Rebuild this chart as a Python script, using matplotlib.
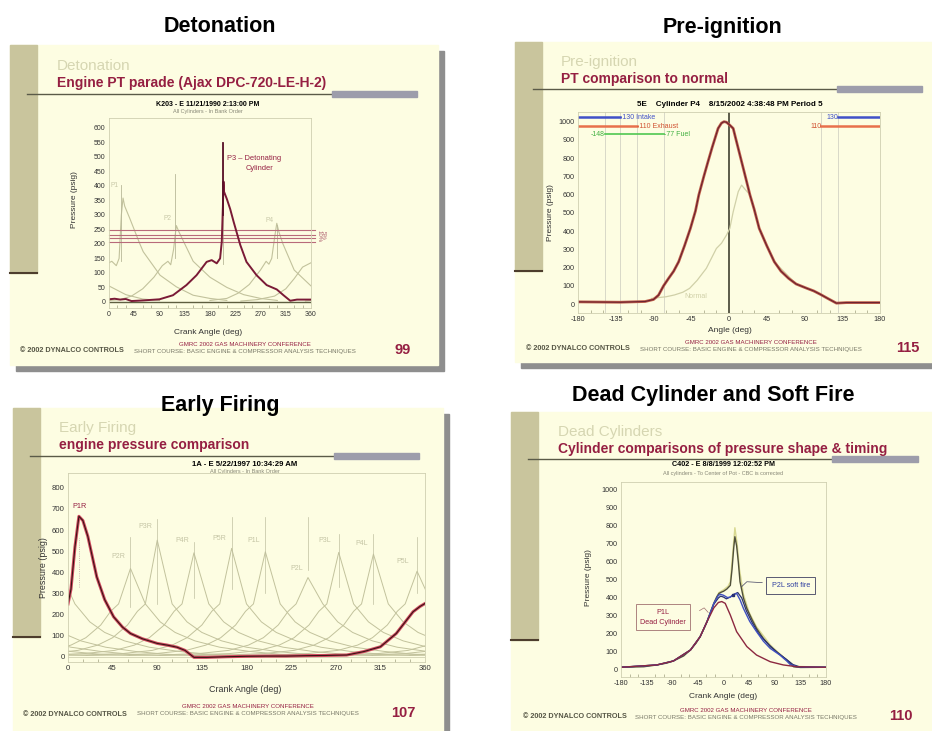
import matplotlib
matplotlib.use('Agg')
import matplotlib.pyplot as plt
from matplotlib.patches import Rectangle
import numpy as np

plt.rcParams['font.family'] = ['Liberation Sans', 'DejaVu Sans']
plt.rcParams['axes.unicode_minus'] = False

W, H = 932, 731

# ---------------- data (crank angle in deg, pressure in psig) ----------------
# Detonation: Ajax DPC-720-LE-H-2, P3 is the detonating cylinder
det_p3_angle = [0, 10, 20, 30, 40, 60, 90, 114, 138, 156, 174, 183, 192, 198, 201, 203, 204,
                205, 207, 210, 216, 222, 234, 245, 263, 281, 299, 311, 323, 335, 360]
det_p3_psi = [9, 11, 8, 10, 3, 5, 9, 23, 58, 92, 138, 144, 133, 150, 208, 330, 415,
              380, 370, 355, 320, 277, 196, 138, 92, 58, 43, 23, 4, 8, 8]
det_p1_angle = [-125, -95, -65, -45, -30, -15, 5, 13, 18, 22, 25, 28, 37, 55, 61, 91, 120, 150, 180, 210]
det_p1_psi = [3, 8, 20, 45, 80, 120, 140, 125, 150, 300, 358, 330, 288, 200, 173, 92, 52, 23, 12, 5]
det_p2_angle = [-10, 20, 40, 60, 80, 95, 105, 110, 115, 120, 125, 135, 150, 180, 210, 240, 270, 300]
det_p2_psi = [3, 8, 20, 45, 85, 125, 140, 128, 180, 263, 240, 200, 140, 85, 50, 25, 12, 5]
det_p4_angle = [180, 210, 230, 250, 270, 280, 285, 290, 295, 299, 303, 310, 330, 360, 390, 420, 450]
det_p4_psi = [5, 12, 30, 60, 110, 140, 130, 150, 220, 271, 240, 200, 110, 55, 25, 10, 5]
det_marker_angle = [22, 118, 204, 299]
det_marker_low = [140, 150, 130, 150]
det_marker_high = [404, 440, 548, 265]
det_limit_psi = [248, 232, 220, 208]

# Pre-ignition: cylinder P4 against a normal cycle
pi_angle = [-180, -130, -100, -90, -84, -78, -72, -66, -60, -53, -46, -40, -36, -30, -25, -20, -13, -9,
            -6, -3, 0, 5, 8, 15, 20, 25, 30, 36, 45, 54, 62, 71, 80, 93, 101, 109, 118, 128, 140, 180]
pi_psi = [12, 10, 14, 25, 49, 100, 141, 180, 232, 320, 415, 510, 598, 700, 781, 860, 963, 992,
          1000, 997, 985, 963, 908, 781, 690, 598, 520, 415, 320, 232, 180, 141, 110, 86, 72, 53, 30, 5, 8, 8]
pi_normal_angle = [-92, -85, -75, -65, -55, -47, -38, -27, -15, -9, -3, 1, 5, 11, 15, 19, 25, 36, 54, 80, 109, 128, 180]
pi_normal_psi = [31, 35, 40, 50, 65, 86, 130, 196, 305, 333, 378, 415, 506, 616, 652, 630, 598, 415, 232, 110, 53, 5, 8]
pi_intake = [-130, 130]
pi_exhaust = [-110, 110]
pi_fuel = [-148, -77]
pi_event_lines = [-148, -130, -110, -77, 110, 130]

# Early firing: P1R in red, remaining cylinders grey
ef_p1r_angle = [0, 3, 7, 11, 15, 20, 29, 37, 46, 55, 63, 75, 90, 100, 110, 118, 127, 140, 160, 180,
                200, 220, 240, 260, 281, 298, 315, 331, 348, 355, 360]
ef_p1r_psi = [250, 320, 520, 665, 645, 570, 378, 270, 189, 140, 110, 85, 63, 55, 45, 30, -3, -3, 0, 2,
              3, 3, 5, 6, 8, 24, 47, 110, 213, 238, 252]
ef_labels = ['P2R', 'P3R', 'P4R', 'P5R', 'P1L', 'P2L', 'P3L', 'P4L', 'P5L']
ef_peak_angle = [63, 90, 127, 165, 199, 242, 273, 308, 352]
ef_peak_psi = [418, 552, 492, 513, 497, 375, 494, 486, 405]
ef_prof_rel = [-180, -150, -110, -80, -60, -45, -30, -20, -12, 0, 15, 30, 45, 65, 90, 120, 150, 180]
ef_prof_psi = [6, 8, 15, 30, 55, 90, 150, 215, 250, None, 250, 165, 115, 75, 45, 25, 12, 6]
ef_marker_low = [236, 252, 280, 323, 300, 410, 330, 250, 300]
ef_marker_high = [568, 654, 544, 662, 662, 662, 583, 583, 568]
ef_label_angle = [51, 78, 115, 153, 187, 231, 259, 296, 338]
ef_label_psi = [473, 615, 552, 560, 552, 418, 552, 536, 450]

# Dead cylinder and soft fire
dc_norm_angle = [-180, -140, -117, -100, -88, -70, -58, -48, -41, -35, -29, -23, -17, -12, -8, -4, 0, 6,
                 12, 15, 18, 20, 23, 26, 29, 35, 41, 50, 58, 70, 82, 99, 111, 123, 135, 180]
dc_norm_psi = [15, 18, 28, 38, 50, 78, 111, 150, 185, 225, 268, 320, 370, 405, 425, 432, 437, 450,
               470, 560, 680, 740, 690, 600, 490, 400, 342, 280, 231, 175, 130, 87, 56, 18, 14, 15]
dc_norm2_angle = [-180, -117, -88, -58, -41, -29, -17, -8, 0, 8, 12, 16, 20, 24, 28, 35, 45, 58, 82, 105, 125, 180]
dc_norm2_psi = [15, 28, 50, 111, 185, 268, 372, 430, 445, 465, 490, 640, 790, 700, 560, 420, 320, 240, 140, 70, 20, 15]
dc_soft_angle = [-180, -117, -88, -58, -41, -29, -17, -9, -5, 0, 7, 12, 17, 23, 29, 35, 46, 58, 70, 82,
                 99, 111, 117, 129, 180]
dc_soft_psi = [15, 28, 50, 111, 185, 268, 370, 415, 420, 415, 402, 405, 417, 425, 390, 342, 270, 213, 160, 120,
               83, 50, 31, 18, 15]
dc_soft2_angle = [-180, -117, -88, -58, -41, -29, -17, -9, -5, 0, 5, 12, 18, 25, 32, 40, 50, 62, 80, 95, 110, 122, 135, 180]
dc_soft2_psi = [15, 28, 50, 111, 185, 268, 365, 400, 410, 405, 395, 405, 420, 430, 400, 330, 265, 200, 140, 95, 60, 30, 16, 15]
dc_dead_angle = [-180, -117, -88, -58, -41, -29, -17, -9, -3, 3, 12, 23, 41, 58, 82, 105, 129, 180]
dc_dead_psi = [15, 28, 50, 111, 185, 268, 345, 375, 380, 370, 305, 213, 130, 83, 46, 28, 18, 15]

# ---------------- styling ----------------
SLIDE = '#fdfde2'
OLIVE = '#c9c59d'
MAROON = '#951f42'
LIGHT = '#d6d6b2'
GRAYBAR = '#9d9dab'
GREY_CURVE = '#c2c29c'

fig = plt.figure(figsize=(W / 100, H / 100), dpi=100)
bg = fig.add_axes([0, 0, 1, 1])
bg.set_xlim(0, W)
bg.set_ylim(H, 0)
bg.axis('off')


def slide(x0, y0, x1, y1, bar_bottom, rule_y, rule_x0, rule_x1, bar_w):
    bg.add_patch(Rectangle((x0 + 6, y0 + 6), x1 - x0, y1 - y0, color='#8e8e8e', zorder=0))
    bg.add_patch(Rectangle((x0, y0), x1 - x0, y1 - y0, color=SLIDE, zorder=1))
    bg.add_patch(Rectangle((x0, y0), 27, bar_bottom - y0, color=OLIVE, zorder=2))
    bg.plot([x0, x0 + 27], [bar_bottom, bar_bottom], color='#4d3d2d', lw=1.5, zorder=3)
    bg.plot([rule_x0, rule_x1], [rule_y, rule_y], color='#5a5a48', lw=1.0, zorder=3)
    bg.add_patch(Rectangle((rule_x1 - 1, rule_y - 3.5), bar_w, 6, color=GRAYBAR, zorder=3))


def slide_text(heading, hx, hy, light, maroon, tx, ty, page, fx, fy, cx, px):
    bg.text(hx, hy, heading, fontsize=15.5, fontweight='bold', ha='center', va='center', zorder=5)
    bg.text(tx, ty, light, fontsize=11, color=LIGHT, ha='left', va='center', zorder=5)
    bg.text(tx, ty + 17, maroon, fontsize=10, fontweight='bold', color=MAROON, ha='left', va='center', zorder=5)
    bg.text(fx, fy, '© 2002 DYNALCO CONTROLS', fontsize=5.2, fontweight='bold', color='#555544',
            ha='left', va='center', zorder=5)
    bg.text(cx, fy - 7, 'GMRC 2002 GAS MACHINERY CONFERENCE', fontsize=4.4, color=MAROON,
            ha='center', va='center', zorder=5)
    bg.text(cx, fy, 'SHORT COURSE: BASIC ENGINE & COMPRESSOR ANALYSIS TECHNIQUES', fontsize=4.4,
            color='#777766', ha='center', va='center', zorder=5)
    bg.text(px, fy - 1, page, fontsize=10.5, fontweight='bold', color=MAROON, ha='center', va='center', zorder=5)


def chart(l, t, r, b, xlim, ylim, xticks, yticks, fs):
    ax = fig.add_axes([l / W, 1 - b / H, (r - l) / W, (b - t) / H])
    ax.set_xlim(*xlim)
    ax.set_ylim(*ylim)
    ax.patch.set_alpha(0)
    for s in ax.spines.values():
        s.set_color('#cfcfb0')
        s.set_linewidth(0.6)
    ax.set_xticks(xticks)
    ax.set_yticks(yticks)
    ax.set_xticks(np.arange(xlim[0], xticks[-1] + 1, 15), minor=True)
    ax.tick_params(which='major', labelsize=fs, colors='#333333', length=0, pad=2.5)
    ax.tick_params(which='minor', axis='x', direction='in', length=2, color='#b0b090')
    return ax


def chart_text(cx, t1, y1, t2, tfs, ylab_x, ylab_y, xlab, xlab_y, lfs):
    bg.text(cx, y1, t1, fontsize=tfs, fontweight='bold', ha='center', va='center', zorder=5)
    if t2:
        bg.text(cx, y1 + 8, t2, fontsize=4.0, color='#888877', ha='center', va='center', zorder=5)
    bg.text(ylab_x, ylab_y, 'Pressure (psig)', fontsize=lfs, rotation=90, color='#333333',
            ha='center', va='center', zorder=5)
    bg.text(cx, xlab_y, xlab, fontsize=lfs, color='#333333', ha='center', va='center', zorder=5)


# slides
slide(10, 45, 438, 365, 273, 94, 27, 333, 85)
slide(515, 42, 940, 362, 271, 89, 533, 838, 85)
slide(13, 408, 443, 740, 637, 456, 30, 335, 85)
slide(511, 412, 940, 740, 640, 459, 528, 833, 86)

slide_text('Detonation', 220, 27, 'Detonation', 'Engine PT parade (Ajax DPC-720-LE-H-2)', 57, 66,
           '99', 20, 351, 245, 403)
slide_text('Pre-ignition', 723, 28, 'Pre-ignition', 'PT comparison to normal', 561, 62,
           '115', 526, 349, 751, 908)
slide_text('Early Firing', 220, 405, 'Early Firing', 'engine pressure comparison', 59, 428,
           '107', 23, 714, 248, 403)
slide_text('Dead Cylinder and Soft Fire', 713, 395, 'Dead Cylinders',
           'Cylinder comparisons of pressure shape & timing', 558, 432, '110', 523, 717, 746, 901)

chart_text(208, 'K203 - E 11/21/1990 2:13:00 PM', 104, 'All Cylinders - In Bank Order', 5.0, 75, 200,
           'Crank Angle (deg)', 332, 6.0)
chart_text(730, '5E    Cylinder P4    8/15/2002 4:38:48 PM Period 5', 104, None, 5.8, 550, 213,
           'Angle (deg)', 331, 6.0)
chart_text(245, '1A - E 5/22/1997 10:34:29 AM', 464, 'All Cylinders - In Bank Order', 5.6, 43, 568,
           'Crank Angle (deg)', 689, 6.4)
chart_text(723, 'C402 - E 8/8/1999 12:02:52 PM', 465, 'All cylinders - To Center of Pot - CBC is corrected', 5.2,
           588, 578, 'Crank Angle (deg)', 697, 6.0)

# ---------------- Detonation ----------------
ax = chart(109, 118, 311, 308, (0, 360), (-21, 634), list(range(0, 361, 45)), list(range(0, 601, 50)), 5.0)
for a, p in [(det_p1_angle, det_p1_psi), (det_p2_angle, det_p2_psi), (det_p4_angle, det_p4_psi)]:
    for shift in (-360, 0, 360):
        ax.plot(np.array(a) + shift, p, color=GREY_CURVE, lw=0.8)
for a, lo, hi in zip(det_marker_angle, det_marker_low, det_marker_high):
    ax.plot([a, a], [lo, hi], color='#b8b898', lw=0.6)
for v in det_limit_psi:
    ax.plot([0, 367], [v, v], color='#b86a7a', lw=0.8, clip_on=False)
ax.axhline(0, color='#5e5e40', lw=1.0)
ax.plot(det_p3_angle, det_p3_psi, color='#7a1a36', lw=1.4)
ax.plot([204, 204], [300, 548], color='#5a1028', lw=1.3)
ax.text(10, 401, 'P1', fontsize=4.8, color='#c8c8a8', ha='center', va='center')
ax.text(105, 286, 'P2', fontsize=4.8, color='#c8c8a8', ha='center', va='center')
ax.text(287, 279, 'P4', fontsize=4.8, color='#c8c8a8', ha='center', va='center')
ax.text(210, 496, 'P3 – Detonating', fontsize=5.4, color=MAROON, ha='left', va='center')
ax.text(268, 459, 'Cylinder', fontsize=5.4, color=MAROON, ha='center', va='center')
ax.text(370, 228, '10%', fontsize=4.4, rotation=-90, color='#b06070', ha='left', va='center')
ax.text(378, 228, '5%', fontsize=4.4, rotation=-90, color='#b06070', ha='left', va='center')

# ---------------- Pre-ignition ----------------
ax = chart(578, 112, 880, 313, (-180, 180), (-49, 1053), list(range(-180, 181, 45)),
           list(range(0, 1001, 100)), 5.2)
for a in pi_event_lines:
    ax.axvline(a, color='#d8d8c8', lw=0.7)
ax.axvline(0, color='#404030', lw=1.2)
ax.plot(pi_normal_angle, pi_normal_psi, color='#d0d0a8', lw=0.9)
ax.plot(pi_angle, pi_psi, color='#c0604a', lw=2.0)
ax.plot(pi_angle, pi_psi, color='#6a2030', lw=0.8)
ax.plot([-180, pi_intake[0]], [1024, 1024], color='#4050c8', lw=1.8)
ax.plot([pi_intake[1], 180], [1024, 1024], color='#4050c8', lw=1.8)
ax.plot([-180, pi_exhaust[0]], [976, 976], color='#e8704c', lw=1.8)
ax.plot([pi_exhaust[1], 180], [976, 976], color='#e8704c', lw=1.8)
ax.plot(pi_fuel, [930, 930], color='#50c850', lw=1.2)
ax.text(pi_intake[0], 1024, '-130 Intake', fontsize=5, color='#4050c8', ha='left', va='center')
ax.text(pi_intake[1], 1024, '130', fontsize=5, color='#4050c8', ha='right', va='center')
ax.text(pi_exhaust[0], 976, '-110 Exhaust', fontsize=5, color='#d05030', ha='left', va='center')
ax.text(pi_exhaust[1], 976, '110', fontsize=5, color='#d05030', ha='right', va='center')
ax.text(pi_fuel[0], 930, '-148', fontsize=5, color='#40b040', ha='right', va='center')
ax.text(pi_fuel[1], 930, '-77 Fuel', fontsize=5, color='#40b040', ha='left', va='center')
ax.text(-40, 40, 'Normal', fontsize=5, color='#d0d0a8', ha='center', va='center')

# ---------------- Early Firing ----------------
ax = chart(68, 473, 425, 662, (0, 360), (-25, 870), list(range(0, 361, 45)), list(range(0, 801, 100)), 5.6)
for pa, pp in zip(ef_peak_angle, ef_peak_psi):
    psi = [pp if v is None else v for v in ef_prof_psi]
    for shift in (-360, 0, 360):
        ax.plot(np.array(ef_prof_rel) + pa + shift, psi, color=GREY_CURVE, lw=0.7)
for a, lo, hi in zip(ef_peak_angle, ef_marker_low, ef_marker_high):
    ax.plot([a, a], [lo, hi], color='#c0c0a0', lw=0.5)
ax.plot([11, 11], [331, 560], color='#c0a0a0', lw=0.6, ls=':')
ax.axhline(0, color='#d0d0b0', lw=0.6)
for lab, a, p in zip(ef_labels, ef_label_angle, ef_label_psi):
    ax.text(a, p, lab, fontsize=5, color='#c4c4a4', ha='center', va='center')
ax.plot(ef_p1r_angle, ef_p1r_psi, color='#d04a60', lw=2.2)
ax.plot(ef_p1r_angle, ef_p1r_psi, color='#3a1414', lw=0.8)
ax.text(12, 710, 'P1R', fontsize=5.2, color=MAROON, ha='center', va='center')

# ---------------- Dead Cylinder and Soft Fire ----------------
ax = chart(621, 482, 826, 677, (-180, 180), (-39, 1044), list(range(-180, 181, 45)),
           list(range(0, 1001, 100)), 5.2)
ax.plot(dc_norm2_angle, dc_norm2_psi, color='#d8d890', lw=1.0)
ax.plot(dc_norm_angle, dc_norm_psi, color='#50503a', lw=1.0)
ax.plot(dc_soft2_angle, dc_soft2_psi, color='#283070', lw=0.9)
ax.plot(dc_soft_angle, dc_soft_psi, color='#4050c0', lw=1.0)
ax.plot(dc_dead_angle, dc_dead_psi, color='#8c2840', lw=1.0)
ax.plot([17], [417], marker='s', ms=2, color='#283070')
ax.text(118, 467, 'P2L soft fire', fontsize=5.2, color='#3040a0', ha='center', va='center',
        bbox=dict(boxstyle='square,pad=0.7', fc=SLIDE, ec='#404060', lw=0.6))
ax.plot([68, 41, 32], [485, 490, 463], color='#404060', lw=0.5)
ax.text(-106, 294, 'P1L\nDead Cylinder', fontsize=5.2, color=MAROON, ha='center', va='center',
        linespacing=1.6, bbox=dict(boxstyle='square,pad=0.6', fc=SLIDE, ec='#a07070', lw=0.6))
ax.plot([-42, -34, -27], [330, 345, 320], color='#a07070', lw=0.5)

fig.savefig('out.png', dpi=100)
